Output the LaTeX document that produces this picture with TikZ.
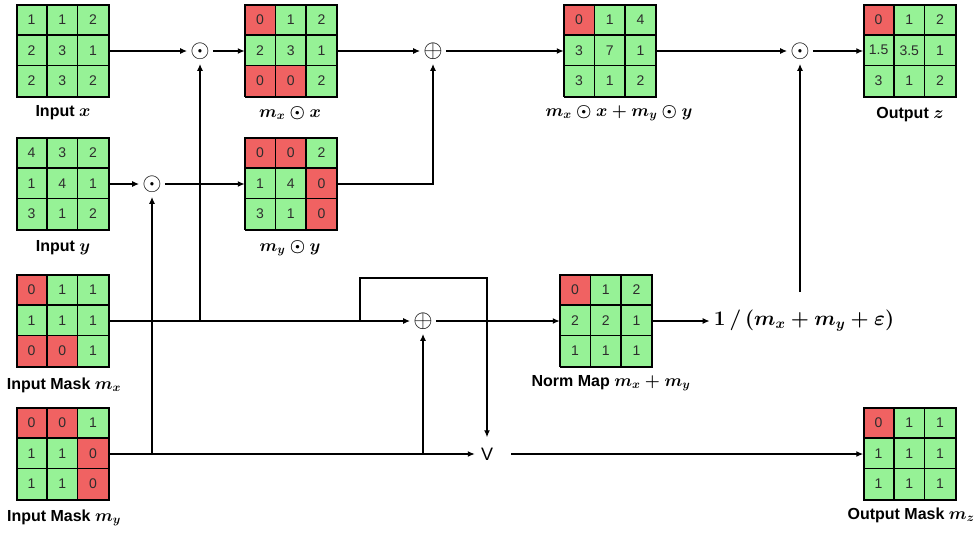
\documentclass[tikz,border=0pt]{standalone}
\usepackage{fontspec}
\setmainfont{Liberation Sans}
\usetikzlibrary{arrows.meta,calc}
\definecolor{cg}{RGB}{150,242,150}
\definecolor{cr}{RGB}{240,98,98}
\definecolor{celltext}{RGB}{45,45,45}
\tikzset{
  cell/.style={draw=black, line width=1.3pt, minimum size=30.67pt, inner sep=0pt, text=celltext, font=\fontsize{14}{14}\selectfont},
  gridbox/.style={draw=black, line width=1.5pt, minimum size=92pt, inner sep=0pt},
  conn/.style={line width=1.3pt, -{Latex[length=7pt,width=6pt]}},
  op/.style={circle, inner sep=0pt, font=\fontsize{24}{24}\selectfont},
  lbl/.style={font=\fontsize{16}{16}\selectfont\bfseries, inner sep=0pt},
  jdot/.style={fill=black},
}
\newcommand\lm[1]{{\fontsize{18.5}{18.5}\selectfont\boldmath$#1$}}
\newcommand\mgrid[3]{%
  \node[gridbox] (#1) at (#2) {};
  \foreach \v/\c [count=\i from 0] in {#3} {
    \pgfmathtruncatemacro\rr{div(\i,3)}
    \pgfmathtruncatemacro\cc{mod(\i,3)}
    \node[cell, fill=c\c] (#1-\rr\cc) at ($(#1.north west)+(\cc*30.67+15.33, \rr*30.67+15.33)$) {\v};
  }
  \node[gridbox] at (#1) {};
}
\begin{document}
\begin{tikzpicture}[x=1pt,y=-1pt]
\useasboundingbox (0,0) rectangle (980,533);
% grids
\mgrid{ix}{63,51}{1/g,1/g,2/g,2/g,3/g,1/g,2/g,3/g,2/g}
\mgrid{mxx}{291.5,51}{0/r,1/g,2/g,2/g,3/g,1/g,0/r,0/r,2/g}
\mgrid{sum}{610.5,51}{0/r,1/g,4/g,3/g,7/g,1/g,3/g,1/g,2/g}
\mgrid{out}{910,51}{0/r,1/g,2/g,1.5/g,3.5/g,1/g,3/g,1/g,2/g}
\mgrid{iy}{63,184}{4/g,3/g,2/g,1/g,4/g,1/g,3/g,1/g,2/g}
\mgrid{myy}{291.5,184}{0/r,0/r,2/g,1/g,4/g,0/r,3/g,1/g,0/r}
\mgrid{imx}{63,321}{0/r,1/g,1/g,1/g,1/g,1/g,0/r,0/r,1/g}
\mgrid{norm}{606.5,321}{0/r,1/g,2/g,2/g,2/g,1/g,1/g,1/g,1/g}
\mgrid{imy}{63,454}{0/r,0/r,1/g,1/g,1/g,0/r,1/g,1/g,0/r}
\mgrid{outm}{910,454}{0/r,1/g,1/g,1/g,1/g,1/g,1/g,1/g,1/g}
% labels
\node[lbl] (lix) at (63,113) {Input \lm{x}};
\node[lbl] (lmxx) at (290,113) {\lm{m_x\odot x}};
\node[lbl] (lsum) at (619,113) {\lm{m_x\odot x+m_y\odot y}};
\node[lbl] (lout) at (910,115) {Output \lm{z}};
\node[lbl] (liy) at (63,248) {Input \lm{y}};
\node[lbl] (lmyy) at (290,248) {\lm{m_y\odot y}};
\node[lbl] (limx) at (64,385) {Input Mask \lm{m_x}};
\node[lbl] (lnorm) at (611,383) {Norm Map \lm{m_x+m_y}};
\node[lbl] (limy) at (64,518) {Input Mask \lm{m_y}};
\node[lbl] (loutm) at (911,515) {Output Mask \lm{m_z}};
% operators
\node[op] (o1) at (200,51) {$\odot$};
\node[op] (p1) at (433,51) {$\oplus$};
\node[op] (o3) at (800,51) {$\odot$};
\node[op] (o2) at (152,184) {$\odot$};
\node[op] (p2) at (423,321) {$\oplus$};
\node[font=\fontsize{18}{18}\selectfont, inner xsep=6pt] (v) at (487,454) {V};
\node[font=\fontsize{21}{21}\selectfont\boldmath, inner sep=4pt] (recip) at (804,321) {$1\,/\,(m_x+m_y+\varepsilon)$};
\coordinate (lp) at (360,278);
\coordinate (rp) at (487,278);
% connectors
\draw[conn] (ix.east) -- (o1);
\draw[conn] (o1) -- (mxx.west);
\draw[conn] (mxx.east) -- (p1);
\draw[conn] (p1) -- (sum.west);
\draw[conn] (sum.east) -- (o3);
\draw[conn] (o3) -- (out.west);
\draw[conn] (iy.east) -- (o2);
\draw[conn] (o2) -- (myy.west);
\draw[conn] (myy.east) -| (p1);
\draw[conn] (imx.east) -- (p2);
\draw[conn] (imx.east -| o1) -- (o1);
\draw[conn, shorten >=7pt] (lp |- imx.east) -- (lp) -- (rp) -- (v);
\draw[conn] (p2) -- (norm.west);
\draw[conn] (norm.east) -- (recip.west);
\draw[conn, shorten <=14pt] (recip.north -| o3) -- (o3);
\draw[conn] (imy.east) -- (v);
\draw[conn] (imy.east -| o2) -- (o2);
\draw[conn] (imy.east -| p2) -- (p2);
\draw[conn, shorten <=12pt] (v) -- (outm.west);
% junction dots
\fill[jdot] (o1 |- o2) circle (1.8pt);
\fill[jdot] (o2 |- imx) circle (1.8pt);
\fill[jdot] (v |- imx) circle (1.8pt);
\end{tikzpicture}
\end{document}
